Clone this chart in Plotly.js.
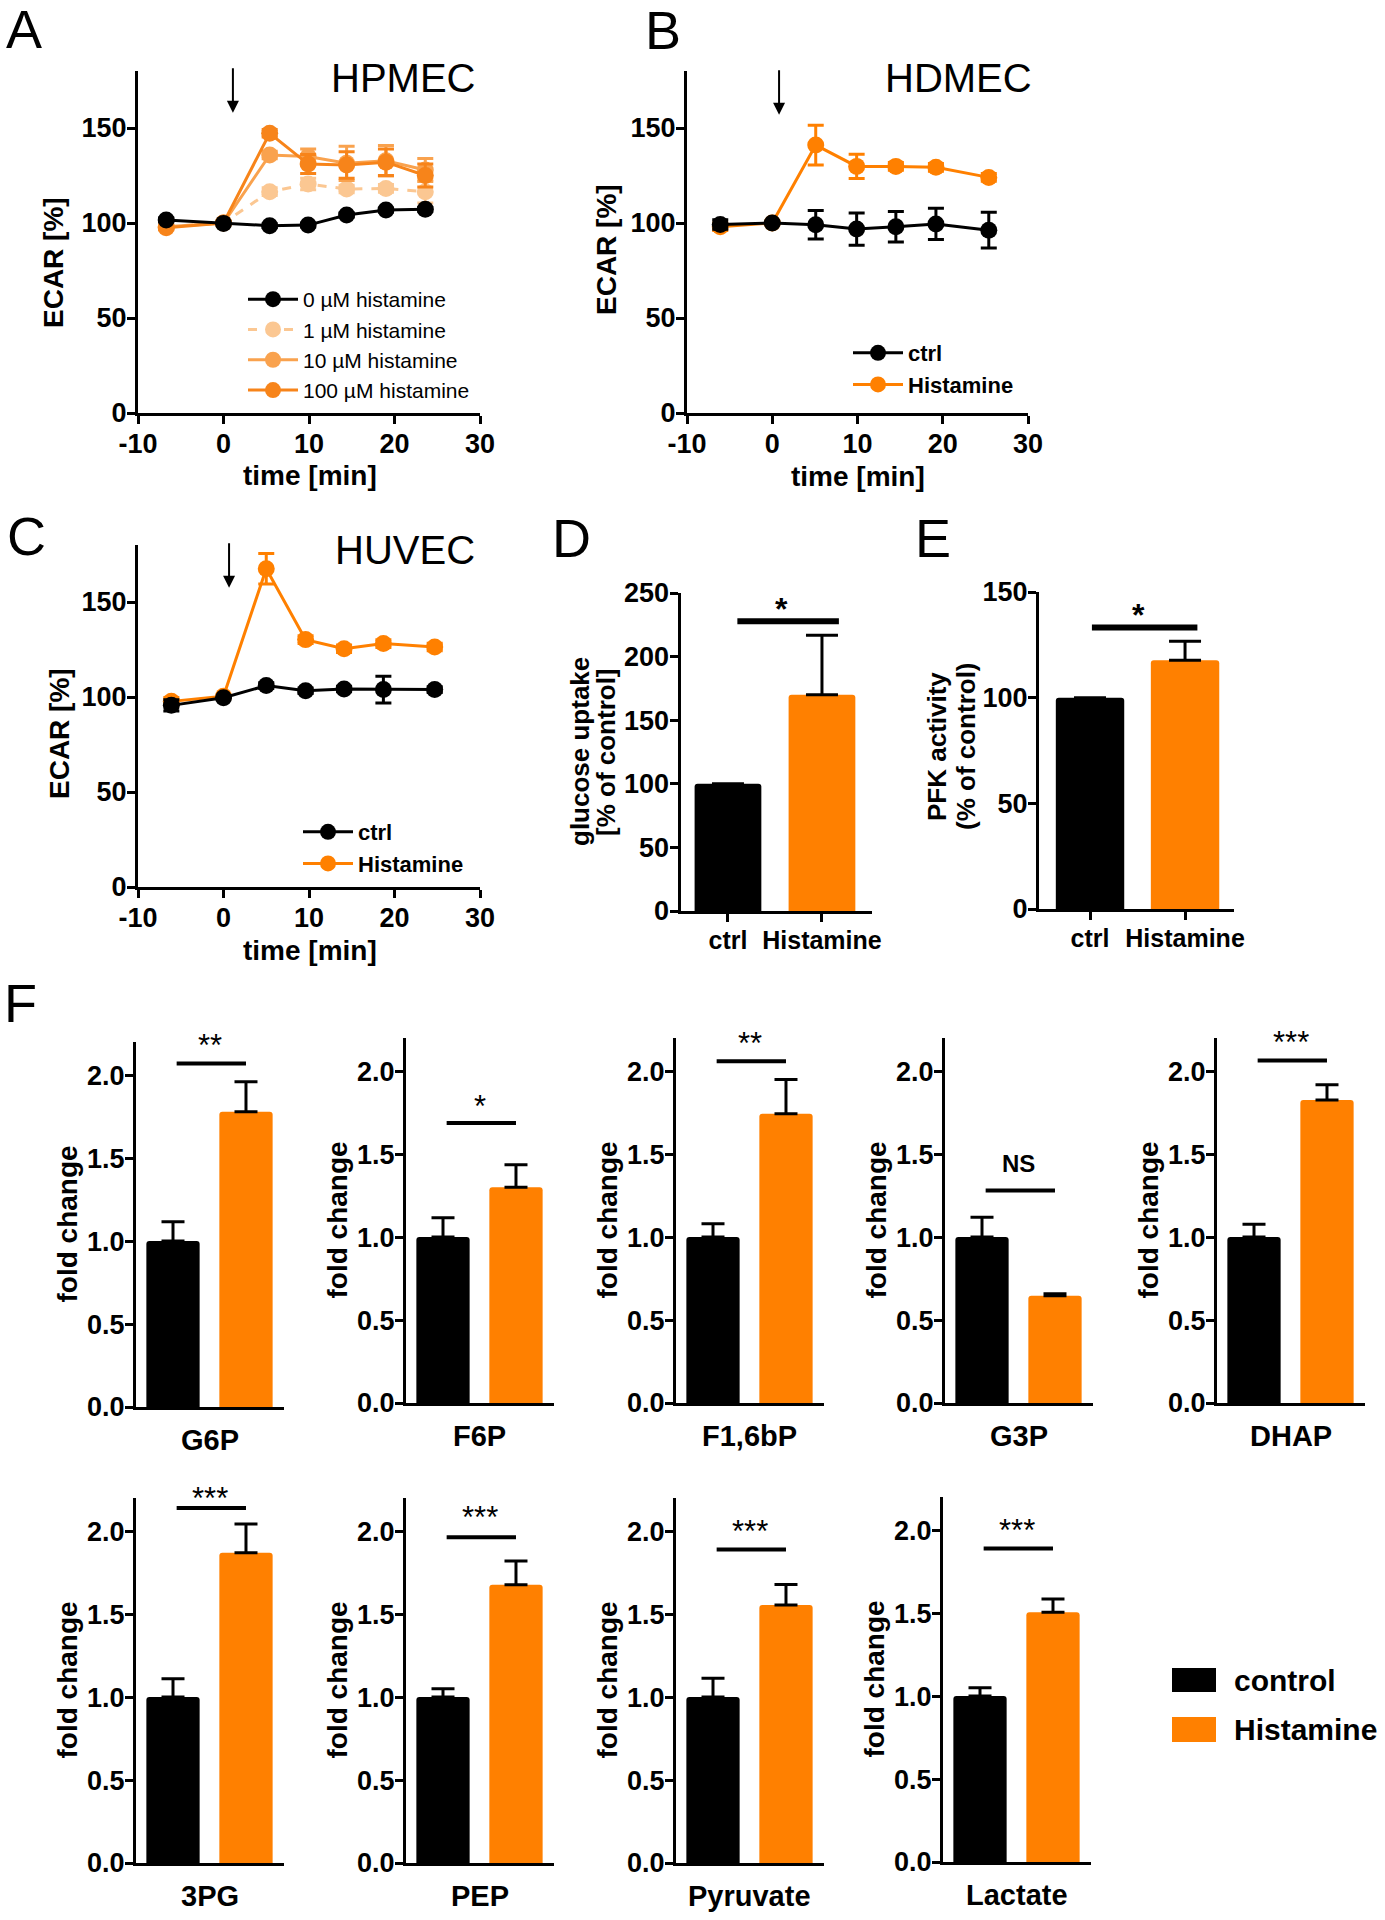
<!DOCTYPE html>
<html>
<head>
<meta charset="utf-8">
<script src="https://cdn.plot.ly/plotly-3.0.1.min.js"></script>
<style>
  html, body { margin: 0; padding: 0; background: #fff; }
  #chart { width: 1385px; height: 1920px; }
</style>
</head>
<body>
<div id="chart"></div>
<script>
// ---------------- DATA ----------------
// Panel A: HPMEC ECAR [%]
const timeA = [-6.7, 0, 5.4, 9.9, 14.4, 19.0, 23.6];
const hpmec0 = [101.6, 99.8, 98.6, 98.9, 104.2, 106.8, 107.2];
const hpmec0Err = [1, 0, 1, 1, 1, 1, 1];
const hpmec1 = [98, 100, 116.5, 120.5, 117.9, 118.2, 116.5];
const hpmec1Err = [1, 0, 2, 3, 2, 2, 6];
const hpmec10 = [98, 100, 135.8, 135, 131.4, 132.8, 127.9];
const hpmec10Err = [1, 0, 2, 4, 9, 8, 6];
const hpmec100 = [97.5, 100, 147.2, 131, 130.5, 132, 125];
const hpmec100Err = [1, 0, 2, 5, 7, 7, 6];
const seriesNamesA = ['0 µM histamine', '1 µM histamine', '10 µM histamine', '100 µM histamine'];

// Panel B: HDMEC
const timeB = [-6.1, 0, 5.1, 9.9, 14.5, 19.2, 25.4];
const hdmecCtrl = [99.2, 100, 99.1, 96.8, 98, 99.5, 96.2];
const hdmecCtrlErr = [2.5, 0, 7.5, 8.5, 8, 8.2, 9.4];
const hdmecHist = [98, 100, 141, 129.8, 129.8, 129.3, 124];
const hdmecHistErr = [2, 0, 10.5, 6.4, 2, 2, 2];

// Panel C: HUVEC
const timeC = [-6.1, 0, 5.0, 9.6, 14.1, 18.7, 24.7];
const huvecCtrl = [95.6, 99.6, 106, 103.3, 104.2, 103.9, 103.9];
const huvecCtrlErr = [3, 0, 1.5, 1.5, 1.5, 7, 1.5];
const huvecHist = [97.7, 100.4, 167.5, 130.2, 125.4, 128.1, 126.3];
const huvecHistErr = [2, 0, 8, 2, 2, 2, 2];
const lineGroupNames = ['ctrl', 'Histamine'];
const timeTicks = [-10, 0, 10, 20, 30];
const timeTickText = ['-10', '0', '10', '20', '30'];

// Panel D / E
const groupLabels = ['ctrl', 'Histamine'];
const glucoseUptake = [100, 170];
const glucoseUptakeErr = [0, 46.7];
const pfkActivity = [100, 117.7];
const pfkActivityErr = [0, 9];
const sigDE = ['*', '*'];
const sigDEBarY = [227.7, 133.2];
const sigDELabelY = [244, 143];

// Panel F: metabolites, fold change
const metabolites = ['G6P', 'F6P', 'F1,6bP', 'G3P', 'DHAP', '3PG', 'PEP', 'Pyruvate', 'Lactate'];
const controlFold = [1, 1, 1, 1, 1, 1, 1, 1, 1];
const controlFoldErr = [0.116, 0.116, 0.08, 0.12, 0.077, 0.11, 0.05, 0.114, 0.051];
const histFold = [1.779, 1.301, 1.743, 0.647, 1.827, 1.87, 1.677, 1.555, 1.505];
const histFoldErr = [0.181, 0.135, 0.207, 0.012, 0.091, 0.174, 0.143, 0.123, 0.08];
const sigLabels = ['**', '*', '**', 'NS', '***', '***', '***', '***', '***'];
const sigBarY = [2.07, 1.687, 2.06, 1.281, 2.064, 2.14, 1.964, 1.889, 1.889];
const sigLabelY = [2.23, 1.833, 2.215, 1.446, 2.22, 2.245, 2.13, 2.044, 2.044];
const fGroupNames = ['control', 'Histamine'];

// ---------------- LAYOUT HELPERS ----------------
const W = 1385, H = 1920;
const px = v => v / W;
const py = v => 1 - v / H;
const ORANGE = '#FF8000';
const A_COLORS = ['#000000', '#FBC792', '#F9A24E', '#F7841A'];
const FAM = 'Arial, "Liberation Sans", Helvetica, sans-serif';
const fb = s => ({family: FAM, size: s, weight: 'bold', color: '#000'});
const fr = s => ({family: FAM, size: s, weight: 'normal', color: '#000'});

const layout = {
  width: W, height: H,
  margin: {l: 0, r: 0, t: 0, b: 0, pad: 0},
  paper_bgcolor: '#ffffff', plot_bgcolor: 'rgba(0,0,0,0)',
  showlegend: true,
  shapes: [], annotations: []
};
const traces = [];

function baseAxis() {
  return {showline: true, linewidth: 3, linecolor: '#000', ticks: 'outside', ticklen: 8,
          tickwidth: 3, tickcolor: '#000', showgrid: false, zeroline: false,
          automargin: false, fixedrange: true};
}
function axName(n, t) { return t + 'axis' + (n === 1 ? '' : n); }
function axRef(n, t) { return t + (n === 1 ? '' : n); }

function addText(text, x, y, font, opts) {
  layout.annotations.push(Object.assign({text, x: px(x), y: py(y), xref: 'paper', yref: 'paper',
    showarrow: false, font, xanchor: 'center', yanchor: 'middle'}, opts || {}));
}

// ---- time-course panels ----
function timePanel(n, L, R, B, T) {
  layout[axName(n, 'x')] = Object.assign(baseAxis(), {domain: [px(L), px(R)], range: [-10, 30],
    tickvals: timeTicks, ticktext: timeTickText, anchor: axRef(n, 'y'), tickfont: fb(27),
    ticklabelstandoff: -3});
  layout[axName(n, 'y')] = Object.assign(baseAxis(), {domain: [py(B), py(T)], range: [0, 180],
    tickvals: [0, 50, 100, 150], anchor: axRef(n, 'x'), tickfont: fb(27),
    ticklabelstandoff: -5});
}
function lineTrace(n, x, y, err, name, color, dash, legendId, rank) {
  return {type: 'scatter', mode: 'lines+markers', x, y, name,
    xaxis: axRef(n, 'x'), yaxis: axRef(n, 'y'), legend: legendId, legendrank: rank,
    line: {color, width: 3, dash: dash || 'solid'},
    marker: {color, size: 17},
    error_y: {type: 'data', array: err, color, thickness: 3, width: 8},
    cliponaxis: false, hoverinfo: 'skip'};
}

timePanel(1, 138, 480, 413, 71);
timePanel(2, 687, 1028, 413, 71);
timePanel(3, 138, 480, 887, 545);

// A traces (orange below, black on top)
traces.push(lineTrace(1, timeA, hpmec1, hpmec1Err, seriesNamesA[1], A_COLORS[1], '9px,9px', 'legend', 2));
traces.push(lineTrace(1, timeA, hpmec10, hpmec10Err, seriesNamesA[2], A_COLORS[2], null, 'legend', 3));
traces.push(lineTrace(1, timeA, hpmec100, hpmec100Err, seriesNamesA[3], A_COLORS[3], null, 'legend', 4));
traces.push(lineTrace(1, timeA, hpmec0, hpmec0Err, seriesNamesA[0], A_COLORS[0], null, 'legend', 1));
// B traces
traces.push(lineTrace(2, timeB, hdmecHist, hdmecHistErr, lineGroupNames[1], ORANGE, null, 'legend2', 2));
traces.push(lineTrace(2, timeB, hdmecCtrl, hdmecCtrlErr, lineGroupNames[0], '#000', null, 'legend2', 1));
// C traces
traces.push(lineTrace(3, timeC, huvecHist, huvecHistErr, lineGroupNames[1], ORANGE, null, 'legend3', 2));
traces.push(lineTrace(3, timeC, huvecCtrl, huvecCtrlErr, lineGroupNames[0], '#000', null, 'legend3', 1));

const legendBase = {xanchor: 'left', yanchor: 'top', bgcolor: 'rgba(0,0,0,0)', borderwidth: 0,
  traceorder: 'normal', itemwidth: 50, itemclick: false, itemdoubleclick: false};
layout.legend = Object.assign({}, legendBase, {x: px(243), y: py(279), font: fr(21)});
layout.legend2 = Object.assign({}, legendBase, {x: px(848), y: py(332), font: fb(22)});
layout.legend3 = Object.assign({}, legendBase, {x: px(298), y: py(811), font: fb(22)});

// axis titles A-C
[[53, 263, 310, 475], [606, 250, 858, 477], [59, 734, 310, 950]].forEach(p => {
  addText('ECAR [%]', p[0], p[1], fb(28), {textangle: -90});
  addText('time [min]', p[2], p[3], fb(28));
});
// cell line titles
addText('HPMEC', 403, 78, fr(40));
addText('HDMEC', 959, 78, fr(40));
addText('HUVEC', 405, 550, fr(40));
// arrows marking histamine addition
[[1, 1.1, 158], [2, 0.8, 157], [3, 0.65, 157.5]].forEach(a => {
  layout.annotations.push({x: a[1], y: a[2], xref: axRef(a[0], 'x'), yref: axRef(a[0], 'y'),
    text: '', showarrow: true, ax: 0, ay: -46, arrowhead: 2, arrowsize: 1.2, arrowwidth: 2,
    arrowcolor: '#000', standoff: 0});
});

// ---- bar panels ----
const panelBox = {};
function barPanel(n, L, R, B, T, xr, yr, ytick, tickfontSize, showX) {
  panelBox[n] = {L, R, B, T, yr};
  layout[axName(n, 'x')] = Object.assign(baseAxis(), {domain: [px(L), px(R)], range: xr,
    anchor: axRef(n, 'y'), tickvals: [0, 1], ticktext: groupLabels, tickfont: fb(25),
    ticks: showX ? 'outside' : '', showticklabels: !!showX, ticklabelstandoff: -3});
  layout[axName(n, 'y')] = Object.assign(baseAxis(), {domain: [py(B), py(T)], range: yr,
    tickvals: ytick, anchor: axRef(n, 'x'), tickfont: fb(tickfontSize),
    tickformat: yr[1] < 10 ? '.1f' : '', ticklabelstandoff: -5});
}
function barTrace(n, vals, errs, width, cap) {
  return {type: 'bar', x: [0, 1], y: vals, width: width,
    xaxis: axRef(n, 'x'), yaxis: axRef(n, 'y'), showlegend: false,
    marker: {color: ['#000000', ORANGE], cornerradius: 3, line: {width: 0}},
    error_y: {type: 'data', symmetric: false, array: errs, arrayminus: [0, 0],
      color: '#000', thickness: 3, width: cap},
    hoverinfo: 'skip'};
}
function sigTrace(n, x0, x1, yv, w) {
  return {type: 'scatter', mode: 'lines', x: [x0, x1], y: [yv, yv],
    xaxis: axRef(n, 'x'), yaxis: axRef(n, 'y'), showlegend: false, cliponaxis: false,
    line: {color: '#000', width: w}, hoverinfo: 'skip'};
}
// significance label placed in paper space (so it may sit above the axis range)
function sigText(n, xFrac, value, text, font, yshift) {
  const b = panelBox[n];
  const yPx = b.B - (value - b.yr[0]) / (b.yr[1] - b.yr[0]) * (b.B - b.T);
  const xPx = b.L + xFrac * (b.R - b.L);
  addText(text, xPx, yPx, font, {yshift: yshift});
}

// D
barPanel(4, 680.5, 871.6, 911, 593, [-0.505, 1.528], [0, 250], [0, 50, 100, 150, 200, 250], 27, true);
traces.push(barTrace(4, glucoseUptake, glucoseUptakeErr, 0.71, 16));
traces.push(sigTrace(4, 0.1, 1.18, sigDEBarY[0], 6));
sigText(4, 0.53, sigDELabelY[0], sigDE[0], fb(32), -8);
addText('glucose uptake', 580, 752, fb(26), {textangle: -90});
addText('[% of control]', 606, 752, fb(26), {textangle: -90});
// E
barPanel(5, 1039, 1233.5, 909, 592, [-0.537, 1.51], [0, 150], [0, 50, 100, 150], 27, true);
traces.push(barTrace(5, pfkActivity, pfkActivityErr, 0.72, 16));
traces.push(sigTrace(5, 0.02, 1.13, sigDEBarY[1], 6));
sigText(5, 0.51, sigDELabelY[1], sigDE[1], fb(32), -8);
addText('PFK activity', 937, 746, fb(26), {textangle: -90});
addText('(% of control)', 966, 746, fb(26), {textangle: -90});

// F panels
const fLeft = [136, 406, 676, 945, 1217, 136, 406, 676, 943];
const fBottom = [1407, 1403, 1403, 1403, 1403, 1863, 1863, 1863, 1862];
const fW = 147.5, fH = 365;
metabolites.forEach((m, i) => {
  const n = 6 + i;
  const L = fLeft[i], B = fBottom[i];
  barPanel(n, L, L + fW, B, B - fH, [-0.507, 1.514], [0, 2.2], [0, 0.5, 1, 1.5, 2], 27, false);
  traces.push(barTrace(n, [controlFold[i], histFold[i]], [controlFoldErr[i], histFoldErr[i]], 0.73, 11.5));
  traces.push(sigTrace(n, 0.05, 1.0, sigBarY[i], 4));
  const isNS = sigLabels[i] === 'NS';
  sigText(n, 0.5, sigLabelY[i], sigLabels[i], isNS ? fb(24) : fr(31), isNS ? 0 : -8);
  addText('fold change', L - 69, B - fH / 2, fb(28), {textangle: -90});
  addText(m, L + fW / 2, B + 33, fb(29));
});

// F legend (box swatches + labels)
[[1668, 1692, '#000000'], [1717, 1742, ORANGE]].forEach((r, i) => {
  layout.shapes.push({type: 'rect', xref: 'paper', yref: 'paper', x0: px(1172), x1: px(1216),
    y0: py(r[1]), y1: py(r[0]), fillcolor: r[2], line: {width: 0}});
  addText(fGroupNames[i], 1232, (r[0] + r[1]) / 2, fb(30), {xanchor: 'left'});
});

// panel letters
[['A', 24, 29], ['B', 663, 30], ['C', 26, 536], ['D', 571, 538], ['E', 933, 538], ['F', 20, 1003]]
  .forEach(l => addText(l[0], l[1], l[2], fr(54)));

Plotly.newPlot('chart', traces, layout, {staticPlot: true, displayModeBar: false});
</script>
</body>
</html>
